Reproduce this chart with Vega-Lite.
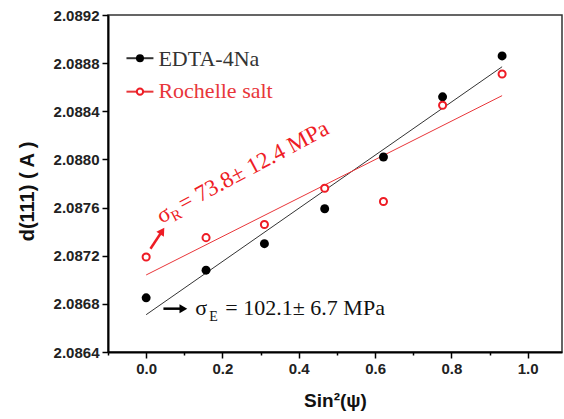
{
  "$schema": "https://vega.github.io/schema/vega-lite/v6.json",
  "width": 454,
  "height": 337,
  "autosize": "none",
  "padding": {"left": 108, "top": 15, "right": 2, "bottom": 67},
  "background": "white",
  "config": {
    "view": {"stroke": "#333", "strokeWidth": 1.5},
    "axis": {"grid": false}
  },
  "datasets": {
    "edta": [
      {"x": 0.0, "y": 2.08685},
      {"x": 0.157, "y": 2.08708},
      {"x": 0.31, "y": 2.0873},
      {"x": 0.468, "y": 2.08759},
      {"x": 0.622, "y": 2.08802},
      {"x": 0.777, "y": 2.08852},
      {"x": 0.933, "y": 2.08886}
    ],
    "roch": [
      {"x": 0.0, "y": 2.08719},
      {"x": 0.157, "y": 2.08735},
      {"x": 0.31, "y": 2.08746},
      {"x": 0.468, "y": 2.08776},
      {"x": 0.622, "y": 2.08765},
      {"x": 0.777, "y": 2.08845},
      {"x": 0.933, "y": 2.08871}
    ],
    "fits": [
      {"series": "EDTA-4Na", "x": 0.0, "y": 2.08671},
      {"series": "EDTA-4Na", "x": 0.933, "y": 2.08877},
      {"series": "Rochelle salt", "x": 0.0, "y": 2.08704},
      {"series": "Rochelle salt", "x": 0.933, "y": 2.08853}
    ],
    "legendLines": [
      {"series": "EDTA-4Na", "x1": -0.0516, "x2": 0.0191, "y": 2.088841, "xm": -0.0162, "tx": 0.0322, "ty": 2.088777},
      {"series": "Rochelle salt", "x1": -0.0516, "x2": 0.0191, "y": 2.088563, "xm": -0.0162, "tx": 0.0322, "ty": 2.088511}
    ],
    "sigR": [{"x": 0.040, "y": 2.087466, "t": "σ"}],
    "sigRsub": [{"x": 0.0735, "y": 2.087483, "t": "R"}],
    "sigRrest": [{"x": 0.0975, "y": 2.087569, "t": "= 73.8± 12.4 MPa"}],
    "sigE": [{"x": 0.129, "y": 2.08671, "t": "σ"}],
    "sigEsub": [{"x": 0.1657, "y": 2.086661, "t": "E"}],
    "sigErest": [{"x": 0.2076, "y": 2.08671, "t": "= 102.1± 6.7 MPa"}],
    "arrowR": [{"x1": 0.0113, "y1": 2.087258, "x2": 0.0421, "y2": 2.087405}],
    "arrowE": [{"x1": 0.0453, "y1": 2.08676, "x2": 0.0976, "y2": 2.08676}]
  },
  "layer": [
    {
      "data": {"name": "fits"},
      "mark": {"type": "line", "strokeWidth": 1},
      "encoding": {
        "x": {
          "field": "x", "type": "quantitative",
          "scale": {"domain": [-0.1, 1.09], "nice": false, "zero": false},
          "axis": {
            "values": [-0.1, 0, 0.1, 0.2, 0.3, 0.4, 0.5, 0.6, 0.7, 0.8, 0.9, 1.0],
            "labelExpr": "round(datum.value*10)%2==0 ? format(datum.value,'.1f') : ''",
            "tickSize": {"condition": {"test": "round(datum.value*10)%2==0", "value": 6}, "value": 3},
            "tickWidth": 1.5, "tickColor": "black",
            "domainWidth": 2, "domainColor": "black",
            "labelFont": "Liberation Sans", "labelFontWeight": "bold", "labelFontSize": 15, "labelColor": "#222",
            "labelPadding": 3, "labelFlush": false, "labelOverlap": false,
            "title": "Sin²(ψ)", "titleFont": "Liberation Sans", "titleFontSize": 19, "titleFontWeight": "bold",
            "titleColor": "#111", "titlePadding": 15
          }
        },
        "y": {
          "field": "y", "type": "quantitative",
          "scale": {"domain": [2.0864, 2.0892], "nice": false, "zero": false},
          "axis": {
            "values": [2.0864, 2.0866, 2.0868, 2.087, 2.0872, 2.0874, 2.0876, 2.0878, 2.088, 2.0882, 2.0884, 2.0886, 2.0888, 2.089, 2.0892],
            "labelExpr": "round(datum.value*10000)%4==0 ? format(datum.value,'.4f') : ''",
            "tickSize": {"condition": {"test": "round(datum.value*10000)%4==0", "value": 6}, "value": 3},
            "tickWidth": 1.5, "tickColor": "black",
            "domainWidth": 2, "domainColor": "black",
            "labelFont": "Liberation Sans", "labelFontWeight": "bold", "labelFontSize": 15, "labelColor": "#222",
            "labelPadding": 3, "labelFlush": false, "labelOverlap": false,
            "title": "d(111) ( A )", "titleFont": "Liberation Sans", "titleFontSize": 20, "titleFontWeight": "bold",
            "titleColor": "#111", "titlePadding": 16, "titleY": 176
          }
        },
        "color": {
          "field": "series", "type": "nominal",
          "scale": {"domain": ["EDTA-4Na", "Rochelle salt"], "range": ["#333333", "#e8363a"]},
          "legend": null
        }
      }
    },
    {
      "data": {"name": "edta"},
      "mark": {"type": "point", "shape": "circle", "filled": true, "color": "black", "size": 80, "opacity": 1},
      "encoding": {
        "x": {"field": "x", "type": "quantitative"},
        "y": {"field": "y", "type": "quantitative"}
      }
    },
    {
      "data": {"name": "roch"},
      "mark": {"type": "point", "shape": "circle", "filled": false, "fill": "white", "fillOpacity": 1, "stroke": "#ee1c25", "strokeWidth": 2, "size": 50, "opacity": 1},
      "encoding": {
        "x": {"field": "x", "type": "quantitative"},
        "y": {"field": "y", "type": "quantitative"}
      }
    },
    {
      "data": {"name": "legendLines"},
      "mark": {"type": "rule", "strokeWidth": 2},
      "encoding": {
        "x": {"field": "x1", "type": "quantitative"},
        "x2": {"field": "x2"},
        "y": {"field": "y", "type": "quantitative"},
        "color": {"field": "series", "type": "nominal", "scale": {"domain": ["EDTA-4Na", "Rochelle salt"], "range": ["#111111", "#ee1c25"]}, "legend": null}
      }
    },
    {
      "data": {"name": "legendLines"},
      "transform": [{"filter": "datum.series == 'EDTA-4Na'"}],
      "mark": {"type": "point", "shape": "circle", "filled": true, "color": "black", "size": 64, "opacity": 1},
      "encoding": {
        "x": {"field": "xm", "type": "quantitative"},
        "y": {"field": "y", "type": "quantitative"}
      }
    },
    {
      "data": {"name": "legendLines"},
      "transform": [{"filter": "datum.series == 'Rochelle salt'"}],
      "mark": {"type": "point", "shape": "circle", "filled": false, "fill": "white", "fillOpacity": 1, "stroke": "#ee1c25", "strokeWidth": 2, "size": 40, "opacity": 1},
      "encoding": {
        "x": {"field": "xm", "type": "quantitative"},
        "y": {"field": "y", "type": "quantitative"}
      }
    },
    {
      "data": {"name": "legendLines"},
      "mark": {"type": "text", "font": "Liberation Serif", "fontSize": 22, "align": "left", "baseline": "alphabetic"},
      "encoding": {
        "x": {"field": "tx", "type": "quantitative"},
        "y": {"field": "ty", "type": "quantitative"},
        "text": {"field": "series"},
        "color": {"field": "series", "type": "nominal", "scale": {"domain": ["EDTA-4Na", "Rochelle salt"], "range": ["#111111", "#ee1c25"]}, "legend": null}
      }
    },
    {
      "data": {"name": "sigR"},
      "mark": {"type": "text", "font": "Liberation Serif", "fontSize": 23, "align": "left", "baseline": "alphabetic", "angle": 332, "color": "#ee1c25"},
      "encoding": {
        "x": {"field": "x", "type": "quantitative"},
        "y": {"field": "y", "type": "quantitative"},
        "text": {"field": "t"}
      }
    },
    {
      "data": {"name": "sigRsub"},
      "mark": {"type": "text", "font": "Liberation Serif", "fontSize": 15, "align": "left", "baseline": "alphabetic", "angle": 332, "color": "#ee1c25"},
      "encoding": {
        "x": {"field": "x", "type": "quantitative"},
        "y": {"field": "y", "type": "quantitative"},
        "text": {"field": "t"}
      }
    },
    {
      "data": {"name": "sigRrest"},
      "mark": {"type": "text", "font": "Liberation Serif", "fontSize": 23, "align": "left", "baseline": "alphabetic", "angle": 332, "color": "#ee1c25"},
      "encoding": {
        "x": {"field": "x", "type": "quantitative"},
        "y": {"field": "y", "type": "quantitative"},
        "text": {"field": "t"}
      }
    },
    {
      "data": {"name": "sigE"},
      "mark": {"type": "text", "font": "Liberation Serif", "fontSize": 22, "align": "left", "baseline": "alphabetic", "color": "#111111"},
      "encoding": {
        "x": {"field": "x", "type": "quantitative"},
        "y": {"field": "y", "type": "quantitative"},
        "text": {"field": "t"}
      }
    },
    {
      "data": {"name": "sigEsub"},
      "mark": {"type": "text", "font": "Liberation Serif", "fontSize": 14, "align": "left", "baseline": "alphabetic", "color": "#111111"},
      "encoding": {
        "x": {"field": "x", "type": "quantitative"},
        "y": {"field": "y", "type": "quantitative"},
        "text": {"field": "t"}
      }
    },
    {
      "data": {"name": "sigErest"},
      "mark": {"type": "text", "font": "Liberation Serif", "fontSize": 22, "align": "left", "baseline": "alphabetic", "color": "#111111"},
      "encoding": {
        "x": {"field": "x", "type": "quantitative"},
        "y": {"field": "y", "type": "quantitative"},
        "text": {"field": "t"}
      }
    },
    {
      "data": {"name": "arrowR"},
      "mark": {"type": "rule", "strokeWidth": 2.5, "color": "#ee1c25"},
      "encoding": {
        "x": {"field": "x1", "type": "quantitative"},
        "y": {"field": "y1", "type": "quantitative"},
        "x2": {"field": "x2"},
        "y2": {"field": "y2"}
      }
    },
    {
      "data": {"name": "arrowR"},
      "mark": {"type": "point", "shape": "triangle-up", "filled": true, "color": "#ee1c25", "size": 80, "angle": 33, "opacity": 1},
      "encoding": {
        "x": {"field": "x2", "type": "quantitative"},
        "y": {"field": "y2", "type": "quantitative"}
      }
    },
    {
      "data": {"name": "arrowE"},
      "mark": {"type": "rule", "strokeWidth": 2.5, "color": "black"},
      "encoding": {
        "x": {"field": "x1", "type": "quantitative"},
        "y": {"field": "y1", "type": "quantitative"},
        "x2": {"field": "x2"}
      }
    },
    {
      "data": {"name": "arrowE"},
      "mark": {"type": "point", "shape": "triangle-right", "filled": true, "color": "black", "size": 80, "opacity": 1},
      "encoding": {
        "x": {"field": "x2", "type": "quantitative"},
        "y": {"field": "y2", "type": "quantitative"}
      }
    }
  ]
}
